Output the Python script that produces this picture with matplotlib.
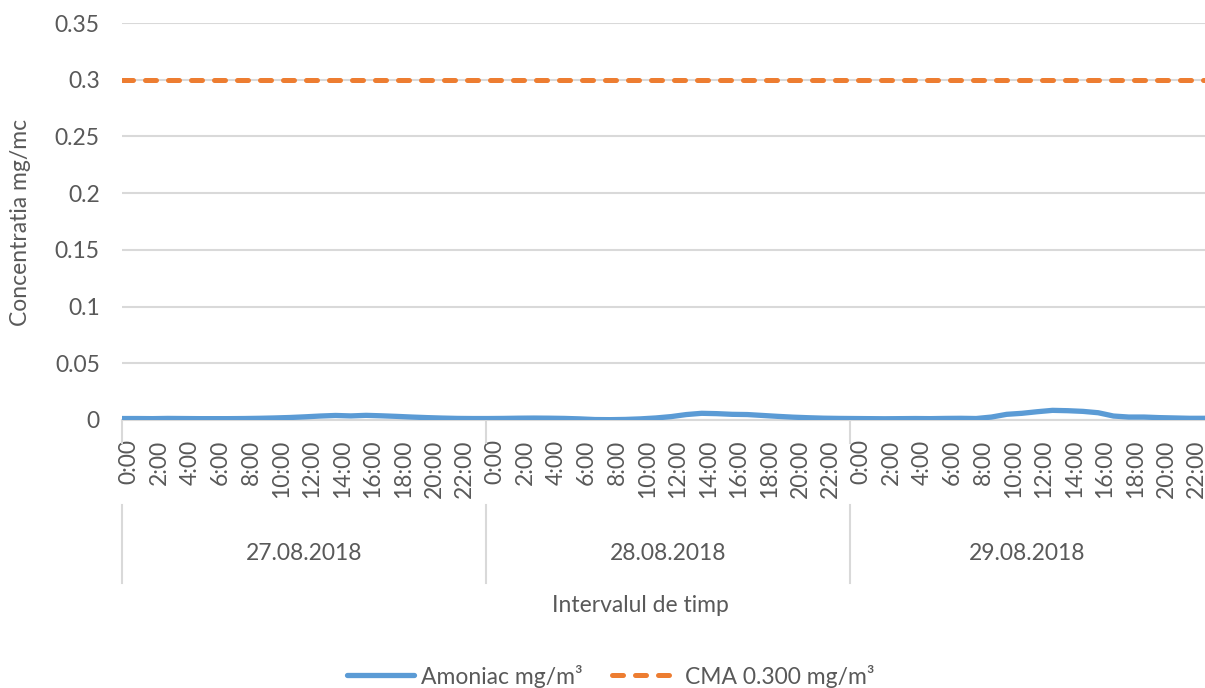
import numpy as np
import matplotlib.pyplot as plt
import matplotlib.transforms as mtransforms
from matplotlib.lines import Line2D

plt.rcParams['font.family'] = ['Lato', 'DejaVu Sans']

# data (hourly values, 3 days)
dates = ['27.08.2018', '28.08.2018', '29.08.2018']
hours = ['%d:00' % h for h in range(24)]
amoniac_d1 = [0.0013, 0.0013, 0.0012, 0.0014, 0.0013, 0.0012, 0.0012, 0.0012,
              0.0013, 0.0015, 0.0018, 0.0022, 0.0028, 0.0035, 0.0040, 0.0036,
              0.0041, 0.0037, 0.0032, 0.0026, 0.0021, 0.0017, 0.0014, 0.0013]
amoniac_d2 = [0.0013, 0.0014, 0.0016, 0.0017, 0.0016, 0.0014, 0.0010, 0.0004,
              0.0003, 0.0005, 0.0010, 0.0018, 0.0030, 0.0048, 0.0059, 0.0056,
              0.0050, 0.0048, 0.0040, 0.0032, 0.0025, 0.0020, 0.0016, 0.0014]
amoniac_d3 = [0.0013, 0.0012, 0.0011, 0.0012, 0.0013, 0.0012, 0.0014, 0.0015,
              0.0013, 0.0026, 0.0050, 0.0059, 0.0073, 0.0085, 0.0082, 0.0076,
              0.0064, 0.0035, 0.0026, 0.0026, 0.0021, 0.0018, 0.0015, 0.0015]
cma = 0.300

amoniac = amoniac_d1 + amoniac_d2 + amoniac_d3
n = len(amoniac)
x = np.arange(n)
cma_vals = [cma] * n

txt = '#595959'
grid = '#D9D9D9'
blue = '#5B9BD5'
orange = '#ED7D31'
fs = 16.5

fig = plt.figure(figsize=(12.05, 6.88), dpi=100)
ax = fig.add_axes([122/1205, 1 - 420/688, 1 - 122/1205, (420 - 23)/688])

ax.plot(x, amoniac, color=blue, lw=3.8, solid_capstyle='round', solid_joinstyle='round', zorder=3)
ax.plot(x, cma_vals, color=orange, lw=3.6, dashes=(2.2, 2.4), dash_capstyle='round', zorder=3)

ax.set_xlim(0, n - 1)
ax.set_ylim(0, 0.35)
ax.set_yticks(np.arange(0, 0.351, 0.05))
ax.set_yticklabels(['0', '0.05', '0.1', '0.15', '0.2', '0.25', '0.3', '0.35'])
ax.yaxis.grid(True, color=grid, lw=1.5)
ax.set_axisbelow(True)
for s in ['left', 'right', 'top']:
    ax.spines[s].set_visible(False)
ax.spines['bottom'].set_color(grid)
ax.spines['bottom'].set_linewidth(1.5)
ax.tick_params(axis='y', length=0, pad=16, labelsize=fs, labelcolor=txt)

# hour labels every 2 h, nudged a bit right of the point like excel does
ticks = list(range(0, n, 2))
ax.set_xticks([t + 0.45 for t in ticks])
ax.set_xticklabels([hours[t % 24] for t in ticks], rotation=90, va='top', ha='center')
ax.tick_params(axis='x', length=0, pad=14, labelsize=fs, labelcolor=txt)

# date groups under the hour labels (separator broken where the hour label sits)
trans = mtransforms.blended_transform_factory(ax.transData, fig.transFigure)
for i, d in enumerate(dates):
    x0 = i * 24 - 0.15 * i
    for y1, y2 in [(420, 443), (505, 583)]:
        ax.add_line(Line2D([x0, x0], [1 - y1/688, 1 - y2/688], transform=trans,
                           color=grid, lw=1.5, clip_on=False))
    xe = min((i + 1) * 24 - 0.15 * (i + 1), n - 1)
    fig.text((x0 + xe) / 2, 1 - 553/688, d, transform=trans, ha='center', va='center',
             fontsize=fs, color=txt)

fig.text(640/1205, 1 - 606/688, 'Intervalul de timp', ha='center', va='center', fontsize=fs, color=txt)
fig.text(21/1205, 1 - 222/688, 'Concentratia mg/mc', rotation=90, ha='center', va='center',
         fontsize=fs, color=txt)

handles = [Line2D([], [], color=blue, lw=3.8, solid_capstyle='round'),
           Line2D([], [], color=orange, lw=3.6, dashes=(2.2, 2.4), dash_capstyle='round')]
fig.legend(handles, ['Amoniac mg/m³', 'CMA 0.300 mg/m³'], loc='center', ncol=2,
           bbox_to_anchor=(611/1205, 1 - 676/688), frameon=False, fontsize=fs,
           labelcolor=txt, handlelength=2.9, columnspacing=1.3, handletextpad=0.3)

fig.savefig('out.png', dpi=100)
